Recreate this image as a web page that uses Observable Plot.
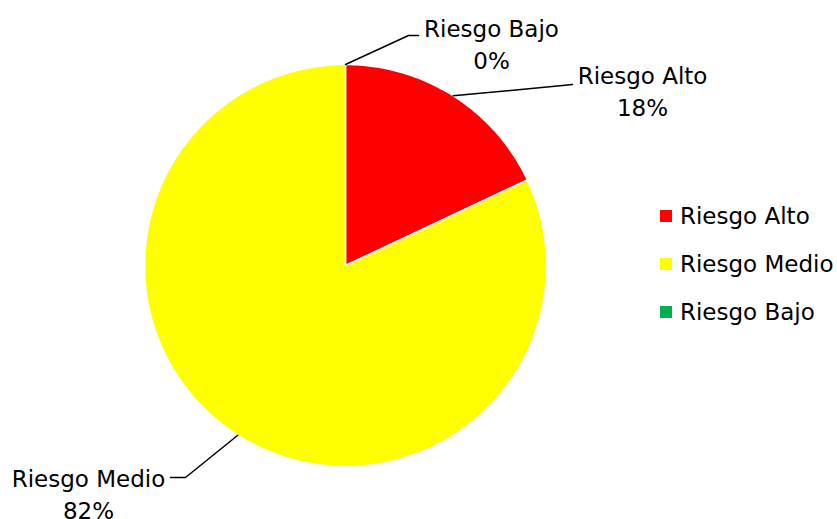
<!DOCTYPE html>
<html><head><meta charset="utf-8">
<script src="https://cdn.jsdelivr.net/npm/d3@7"></script>
<script src="https://cdn.jsdelivr.net/npm/@observablehq/plot@0.6"></script>
<style>
body{margin:0;background:#fff;font-family:"DejaVu Sans",sans-serif;}
#wrap{position:relative;width:837px;height:519px;overflow:hidden;}
#legend{position:absolute;left:660px;top:192px;font-size:23px;color:#000;white-space:nowrap;}
#legend div{display:flex;align-items:center;height:48px;}
#legend span.sw{display:inline-block;width:12px;height:12px;margin-right:8px;}
</style></head>
<body><div id="wrap"><div id="chart"></div><div id="legend"></div></div>
<script>
const categories = ["Riesgo Alto", "Riesgo Medio", "Riesgo Bajo"];
const values = [18, 82, 0];
const colors = ["#ff0000", "#ffff00", "#00b050"];
const percentLabels = ["18%", "82%", "0%"];

// layout (pixels): pie centre / radius and label anchors
const CX = 345, CY = 265, R = 201;
const labelLayout = {
  "Riesgo Alto":  {elbow:[562, 85], end:[572, 84], text:[642, 89]},
  "Riesgo Medio": {elbow:[185, 477], end:[170, 477], text:[88, 492]},
  "Riesgo Bajo":  {elbow:[408, 35], end:[418, 35], text:[491, 42]}
};
const u = ([px, py]) => [(px - CX) / R, (CY - py) / R];

const arcs = d3.pie().sort(null).value(d => d.value)(categories.map((c, i) => ({name: c, value: values[i], color: colors[i], pct: percentLabels[i]})));

const marks = [];
for (const a of arcs) {
  if (a.endAngle - a.startAngle <= 0) continue;
  const pts = [{x: 0, y: 0}];
  const n = Math.max(2, Math.ceil((a.endAngle - a.startAngle) / 0.01));
  for (let k = 0; k <= n; k++) {
    const t = a.startAngle + (a.endAngle - a.startAngle) * k / n;
    pts.push({x: Math.sin(t), y: Math.cos(t)});
  }
  pts.push({x: 0, y: 0});
  marks.push(Plot.line(pts, {x: "x", y: "y", fill: a.data.color, stroke: "#fff", strokeWidth: 1.5, curve: "linear"}));
}
const leaders = [], texts = [];
for (const a of arcs) {
  const m = (a.startAngle + a.endAngle) / 2;
  const L = labelLayout[a.data.name];
  const e = u(L.elbow), f = u(L.end), t = u(L.text);
  leaders.push({k: a.data.name, x: Math.sin(m), y: Math.cos(m)}, {k: a.data.name, x: e[0], y: e[1]}, {k: a.data.name, x: f[0], y: f[1]});
  texts.push({x: t[0], y: t[1], label: a.data.name + "\n" + a.data.pct});
}
marks.push(Plot.line(leaders, {x: "x", y: "y", z: "k", stroke: "#000", strokeWidth: 1.5}));
marks.push(Plot.text(texts, {x: "x", y: "y", text: "label", fontSize: 23, lineHeight: 1.38, fill: "#000"}));

const chart = Plot.plot({
  width: 837, height: 519,
  margin: 0,
  x: {domain: [-1, 1], range: [CX - R, CX + R], axis: null},
  y: {domain: [-1, 1], range: [CY + R, CY - R], axis: null},
  style: {fontFamily: '"DejaVu Sans", sans-serif', background: "#fff", overflow: "hidden"},
  marks
});
document.getElementById("chart").append(chart);

const leg = document.getElementById("legend");
categories.forEach((c, i) => {
  const d = document.createElement("div");
  d.innerHTML = `<span class="sw" style="background:${colors[i]}"></span>${c}`;
  leg.append(d);
});
</script></body></html>
